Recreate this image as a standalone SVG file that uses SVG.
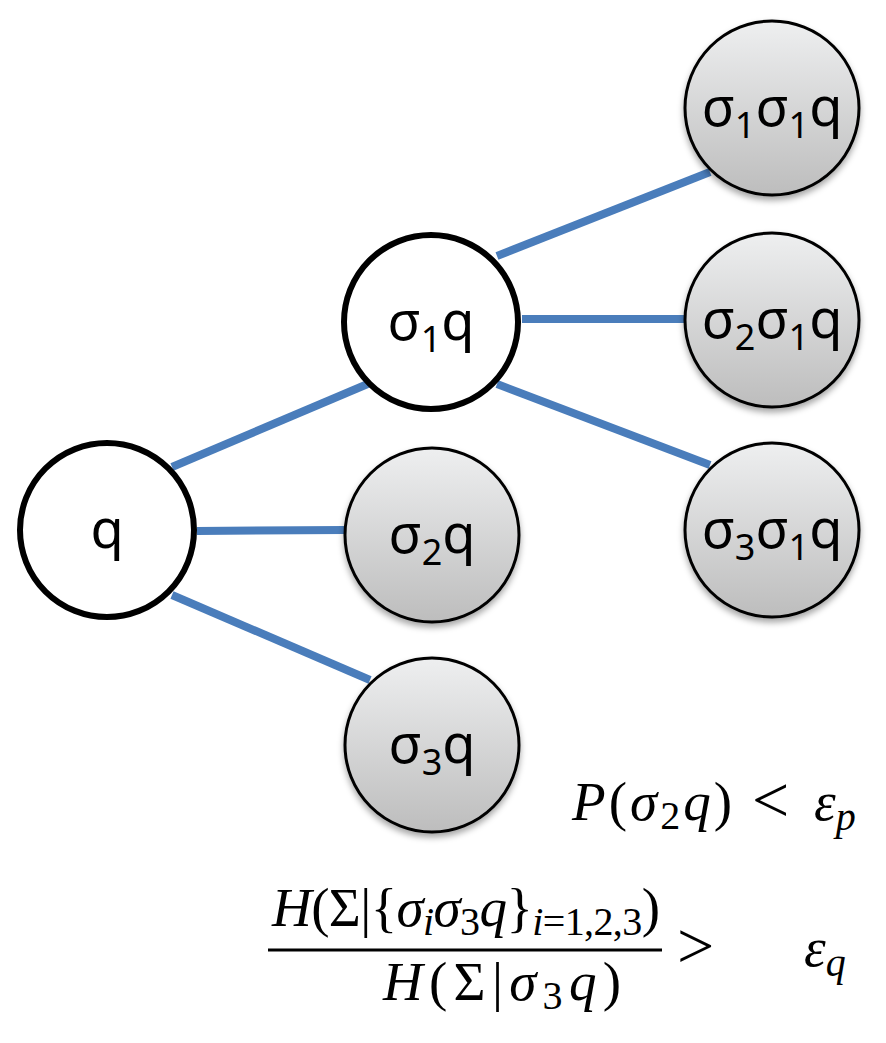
<svg xmlns="http://www.w3.org/2000/svg" width="886" height="1043" viewBox="0 0 886 1043">
<defs>
<linearGradient id="g" x1="0" y1="0" x2="0" y2="1">
<stop offset="0" stop-color="#eeeff0"/>
<stop offset="1" stop-color="#bdbdbd"/>
</linearGradient>
<filter id="sh" x="-20%" y="-20%" width="140%" height="150%">
<feDropShadow dx="0" dy="4" stdDeviation="3" flood-color="#000" flood-opacity="0.35"/>
</filter>
<style>
.w{fill:#fff;stroke:#000;stroke-width:6}
.gr{fill:url(#g);stroke:#000;stroke-width:3;filter:url(#sh)}
.lbl{font-family:"Noto Sans","Open Sans",sans-serif;font-size:54px;fill:#000;text-anchor:middle}
.sub{font-size:36px}
.e{stroke:#4a7dbb;stroke-width:8;fill:none}
.m{font-family:"Liberation Serif","DejaVu Serif",serif;font-style:italic;font-size:55px;fill:#000}
.mu{font-style:normal}
.ms{font-size:40px}
.op{font-family:"Liberation Serif","DejaVu Serif",serif;font-size:66px;fill:#000}
</style>
</defs>
<rect width="886" height="1043" fill="#fff"/>
<g id="connectors">
<line class="e" x1="172" y1="467" x2="370" y2="383"/>
<line class="e" x1="197" y1="531" x2="345" y2="530"/>
<line class="e" x1="172" y1="595" x2="370" y2="680"/>
<line class="e" x1="497" y1="256" x2="710" y2="172"/>
<line class="e" x1="522" y1="319" x2="685" y2="319"/>
<line class="e" x1="497" y1="384" x2="710" y2="465"/>
</g>
<g id="q"><circle class="w" cx="107" cy="530" r="87"/><text class="lbl" x="107" y="548">q</text></g>
<g id="s1q"><circle class="w" cx="431" cy="322" r="87"/><text class="lbl" x="431" y="340">σ<tspan class="sub" dy="12">1</tspan><tspan dy="-12">q</tspan></text></g>
<g id="s2q"><circle class="gr" cx="432" cy="535" r="87"/><text class="lbl" x="432" y="553">σ<tspan class="sub" dy="12">2</tspan><tspan dy="-12">q</tspan></text></g>
<g id="s3q"><circle class="gr" cx="432" cy="745" r="87"/><text class="lbl" x="432" y="763">σ<tspan class="sub" dy="12">3</tspan><tspan dy="-12">q</tspan></text></g>
<g id="s1s1q"><circle class="gr" cx="772" cy="108" r="87"/><text class="lbl" x="772" y="126">σ<tspan class="sub" dy="12">1</tspan><tspan dy="-12">σ</tspan><tspan class="sub" dy="12">1</tspan><tspan dy="-12">q</tspan></text></g>
<g id="s2s1q"><circle class="gr" cx="772" cy="320" r="87"/><text class="lbl" x="772" y="338">σ<tspan class="sub" dy="12">2</tspan><tspan dy="-12">σ</tspan><tspan class="sub" dy="12">1</tspan><tspan dy="-12">q</tspan></text></g>
<g id="s3s1q"><circle class="gr" cx="772" cy="530" r="87"/><text class="lbl" x="772" y="548">σ<tspan class="sub" dy="12">3</tspan><tspan dy="-12">σ</tspan><tspan class="sub" dy="12">1</tspan><tspan dy="-12">q</tspan></text></g>
<g id="formula1">
<text class="m" x="572" y="820" textLength="160" lengthAdjust="spacing">P<tspan class="mu">(</tspan>σ<tspan class="ms mu" dy="9">2</tspan><tspan dy="-9">q</tspan><tspan class="mu">)</tspan></text>
<text class="op" x="752" y="822">&lt;</text>
<text class="m" x="814" y="820">ε<tspan class="ms" dy="10">p</tspan></text>
</g>
<g id="formula2">
<text class="m" x="272" y="926" textLength="388" lengthAdjust="spacing">H<tspan class="mu">(Σ|{</tspan>σ<tspan class="ms" dy="9">i</tspan><tspan dy="-9">σ</tspan><tspan class="ms mu" dy="9">3</tspan><tspan dy="-9">q</tspan><tspan class="mu">}</tspan><tspan class="ms" dy="9">i</tspan><tspan class="ms mu">=1,2,3</tspan><tspan class="mu" dy="-9">)</tspan></text>
<line x1="268" y1="950" x2="662" y2="950" stroke="#000" stroke-width="3"/>
<text class="m" x="383" y="1000" textLength="238" lengthAdjust="spacing">H<tspan class="mu">(Σ|</tspan>σ<tspan class="ms mu" dy="9">3</tspan><tspan dy="-9">q</tspan><tspan class="mu">)</tspan></text>
<text class="op" x="677" y="968">&gt;</text>
<text class="m" x="804" y="966">ε<tspan class="ms" dy="10">q</tspan></text>
</g>
</svg>
